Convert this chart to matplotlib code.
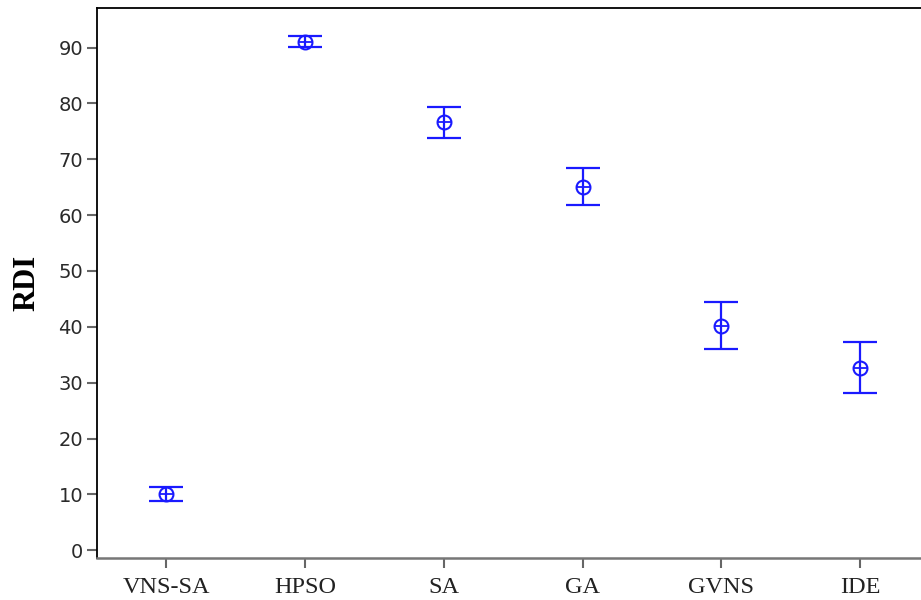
import matplotlib
matplotlib.use("Agg")
import matplotlib.pyplot as plt

categories = ["VNS-SA", "HPSO", "SA", "GA", "GVNS", "IDE"]
means = [10.0, 91.0, 76.7, 65.1, 40.1, 32.6]
upper = [11.3, 92.1, 79.4, 68.5, 44.4, 37.3]
lower = [8.8, 90.1, 73.8, 61.8, 36.0, 28.1]
yticks = [0, 10, 20, 30, 40, 50, 60, 70, 80, 90]

fig = plt.figure(figsize=(9.21, 6), dpi=100)
ax = fig.add_axes([97/921, 42/600, 1 - 97/921, 550/600])

x = list(range(len(categories)))
err = [[m - l for m, l in zip(means, lower)], [u - m for m, u in zip(means, upper)]]
col = "#1a1aff"
ax.errorbar(x, means, yerr=err, fmt="none", ecolor=col, elinewidth=1.6,
            capsize=12, capthick=1.6)
ax.plot(x, means, "o", mfc="none", mec=col, ms=10, mew=1.5, ls="none")
ax.plot(x, means, "_", mec=col, ms=10, mew=1.3, ls="none")

ax.set_xlim(-0.5, 5.44)
ax.set_ylim(-1.4, 97.1)
ax.set_xticks(x)
ax.set_xticklabels(categories, fontfamily="Liberation Serif", fontsize=17.5, color="#222222")
ax.set_yticks(yticks)
ax.set_yticklabels([str(v) for v in yticks], fontfamily="DejaVu Sans", fontsize=14, color="#2a2a2a")
ax.tick_params(axis="both", direction="out", length=7, width=1.5, color="#666666")
ax.tick_params(axis="x", pad=7)
ax.tick_params(axis="y", pad=3)
ax.set_ylabel("RDI", fontfamily="Liberation Serif", fontweight="bold", fontsize=22, labelpad=12)

ax.spines["left"].set_color("black")
ax.spines["left"].set_linewidth(1.3)
ax.spines["bottom"].set_color("#777777")
ax.spines["bottom"].set_linewidth(1.8)
ax.spines["top"].set_color("black")
ax.spines["top"].set_linewidth(1.3)
ax.spines["right"].set_visible(False)

fig.savefig("out.png", dpi=100)
